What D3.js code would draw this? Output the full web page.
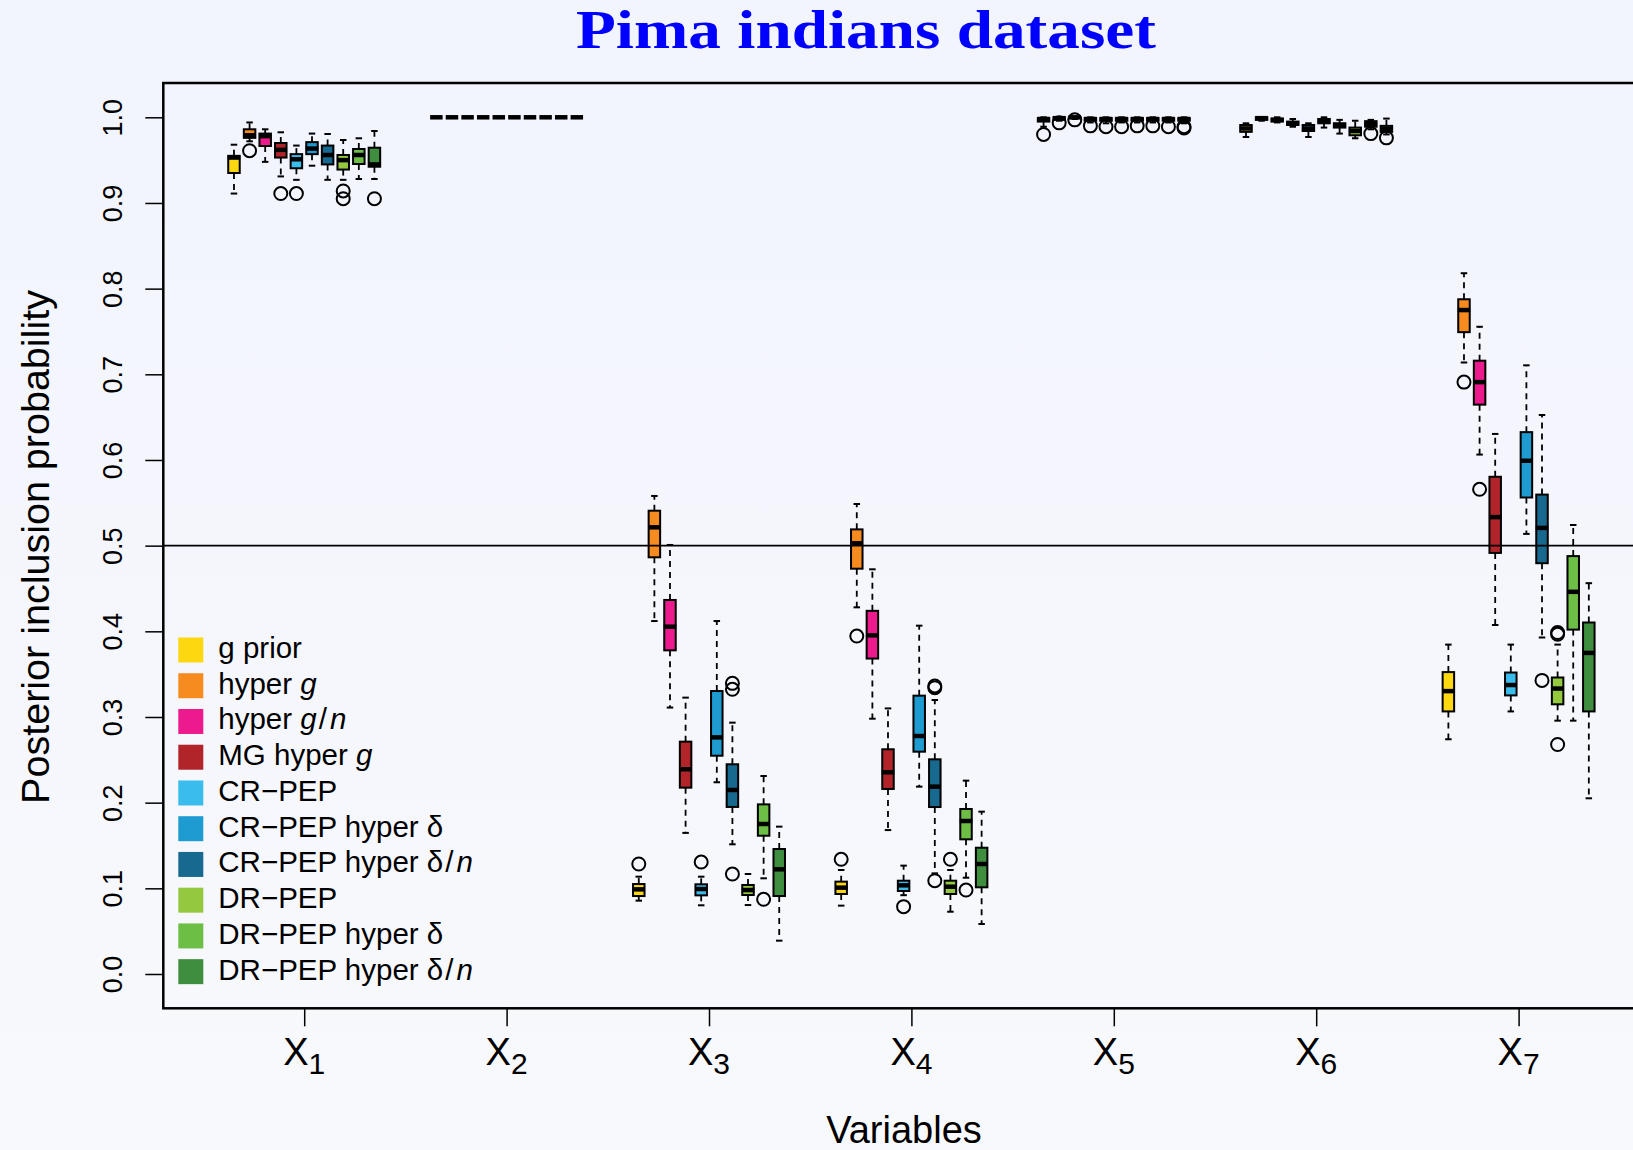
<!DOCTYPE html>
<html><head><meta charset="utf-8">
<script src="https://cdn.jsdelivr.net/npm/d3@7"></script>
<style>html,body{margin:0;padding:0;overflow:hidden;background:#f5f6fd}</style>
</head><body>
<svg id="chart" width="1633" height="1150"></svg>
<script>
// ---------------- DATA ----------------
const variables = ["1", "2", "3", "4", "5", "6", "7"];
const methods = ["g prior", "hyper g", "hyper g/n", "MG hyper g", "CR−PEP",
  "CR−PEP hyper δ", "CR−PEP hyper δ/n", "DR−PEP", "DR−PEP hyper δ", "DR−PEP hyper δ/n"];
const methodColors = ["#fdd710", "#f68b1f", "#ec1a8c", "#b1242a", "#3abdec",
  "#1e9bd0", "#17698f", "#94c83e", "#6cbe45", "#3f8e40"];
// legend label segments: [text, italic?]
const legendLabels = [
  [["g prior", 0]],
  [["hyper ", 0], ["g", 1]],
  [["hyper ", 0], ["g", 1], ["/", 0], ["n", 1]],
  [["MG hyper ", 0], ["g", 1]],
  [["CR−PEP", 0]],
  [["CR−PEP hyper δ", 0]],
  [["CR−PEP hyper δ", 0], ["/", 0], ["n", 1]],
  [["DR−PEP", 0]],
  [["DR−PEP hyper δ", 0]],
  [["DR−PEP hyper δ", 0], ["/", 0], ["n", 1]]
];
const yTicks = [0.0, 0.1, 0.2, 0.3, 0.4, 0.5, 0.6, 0.7, 0.8, 0.9, 1.0];
const refLine = 0.5;

// five-number summaries per method: [lower whisker, Q1, median, Q3, upper whisker]
const statsX1 = [
  [0.911, 0.935, 0.953, 0.955, 0.968],
  [0.972, 0.976, 0.979, 0.986, 0.994],
  [0.948, 0.9665, 0.978, 0.981, 0.986],
  [0.931, 0.953, 0.962, 0.970, 0.9825],
  [0.927, 0.9405, 0.951, 0.957, 0.967],
  [0.9435, 0.957, 0.9635, 0.971, 0.981],
  [0.927, 0.945, 0.956, 0.967, 0.9805],
  [0.927, 0.939, 0.950, 0.956, 0.9735],
  [0.928, 0.9455, 0.956, 0.963, 0.9755],
  [0.928, 0.9423, 0.945, 0.9645, 0.984]
];
const outX1 = [[], [0.961], [], [0.911], [0.911], [], [], [0.914, 0.905], [], [0.905]];

const statsX2 = [
  [1, 1, 1, 1, 1], [1, 1, 1, 1, 1], [1, 1, 1, 1, 1], [1, 1, 1, 1, 1], [1, 1, 1, 1, 1],
  [1, 1, 1, 1, 1], [1, 1, 1, 1, 1], [1, 1, 1, 1, 1], [1, 1, 1, 1, 1], [1, 1, 1, 1, 1]
];
const outX2 = [[], [], [], [], [], [], [], [], [], []];

const statsX3 = [
  [0.0856, 0.091, 0.0988, 0.105, 0.1136],
  [0.412, 0.4864, 0.5214, 0.5408, 0.558],
  [0.311, 0.3778, 0.4054, 0.4366, 0.5008],
  [0.1647, 0.2175, 0.239, 0.2712, 0.3226],
  [0.0802, 0.0918, 0.0992, 0.1047, 0.1136],
  [0.2238, 0.2548, 0.2762, 0.3303, 0.412],
  [0.1514, 0.195, 0.2148, 0.2448, 0.2934],
  [0.0805, 0.0922, 0.098, 0.1039, 0.1167],
  [0.1117, 0.1614, 0.1751, 0.198, 0.2311],
  [0.0389, 0.091, 0.1222, 0.1459, 0.172]
];
const outX3 = [[0.1284], [], [], [], [0.1307], [], [0.3393, 0.3323, 0.1167], [], [0.0872], []];

const statsX4 = [
  [0.0798, 0.0934, 0.1008, 0.1078, 0.1214],
  [0.428, 0.4731, 0.5027, 0.519, 0.5486],
  [0.298, 0.3682, 0.3953, 0.4239, 0.4724],
  [0.168, 0.216, 0.2354, 0.2623, 0.310],
  [0.092, 0.0969, 0.1035, 0.1089, 0.1265],
  [0.2187, 0.2595, 0.2778, 0.3249, 0.4066],
  [0.1175, 0.1949, 0.2187, 0.2506, 0.3198],
  [0.0727, 0.0934, 0.1019, 0.1089, 0.1214],
  [0.1124, 0.1572, 0.1786, 0.1926, 0.2257],
  [0.0584, 0.1012, 0.1284, 0.1474, 0.1895]
];
const outX4 = [[0.1339], [0.3945], [], [], [0.0786], [], [0.3342, 0.3362, 0.1089], [0.1339], [0.098], []];

const statsX5 = [
  [0.989, 0.995, 0.998, 0.999, 1.0],
  [0.996, 0.997, 0.999, 1.0, 1.0],
  [0.998, 0.999, 1.0, 1.0, 1.0],
  [0.994, 0.996, 0.998, 0.999, 1.0],
  [0.993, 0.996, 0.998, 0.999, 1.0],
  [0.994, 0.996, 0.998, 0.999, 1.0],
  [0.994, 0.996, 0.998, 0.999, 1.0],
  [0.994, 0.996, 0.998, 0.999, 1.0],
  [0.994, 0.996, 0.998, 0.999, 1.0],
  [0.993, 0.996, 0.998, 0.999, 1.0]
];
const outX5 = [[0.980], [0.9935], [0.997], [0.990], [0.989], [0.989], [0.990], [0.990], [0.989], [0.9875, 0.989]];

const statsX6 = [
  [0.977, 0.983, 0.987, 0.991, 0.993],
  [0.996, 0.997, 0.999, 1.0, 1.0],
  [0.994, 0.995, 0.997, 0.9985, 1.0],
  [0.989, 0.991, 0.993, 0.995, 0.998],
  [0.977, 0.984, 0.987, 0.991, 0.993],
  [0.988, 0.993, 0.996, 0.998, 1.0],
  [0.981, 0.988, 0.991, 0.993, 0.997],
  [0.9755, 0.979, 0.984, 0.988, 0.996],
  [0.986, 0.989, 0.992, 0.9955, 0.997],
  [0.980, 0.983, 0.986, 0.990, 0.9985]
];
const outX6 = [[], [], [], [], [], [], [], [], [0.981], [0.976]];

const statsX7 = [
  [0.274, 0.3065, 0.3302, 0.3524, 0.3845],
  [0.7138, 0.7492, 0.775, 0.7876, 0.818],
  [0.6063, 0.6646, 0.6909, 0.7159, 0.7555],
  [0.4074, 0.4915, 0.5333, 0.5804, 0.6304],
  [0.3065, 0.3252, 0.3373, 0.3519, 0.3845],
  [0.5137, 0.5562, 0.5991, 0.6325, 0.7105],
  [0.3928, 0.4795, 0.5207, 0.5596, 0.6525],
  [0.2957, 0.3148, 0.3332, 0.3461, 0.3845],
  [0.2957, 0.402, 0.4461, 0.4878, 0.5241],
  [0.2051, 0.3065, 0.3748, 0.4103, 0.4562]
];
const outX7 = [[], [0.6909], [0.5658], [], [], [], [0.3427], [0.3965, 0.3985, 0.2679], [], []];

const allStats = [statsX1, statsX2, statsX3, statsX4, statsX5, statsX6, statsX7];
const allOut = [outX1, outX2, outX3, outX4, outX5, outX6, outX7];

// ---------------- LAYOUT ----------------
const W = 1633, H = 1150;
const plotL = 163.3, plotR = 1643, plotT = 83, plotB = 1008.3;
const svg = d3.select("#chart");

const defs = svg.append("defs");
const grad = defs.append("linearGradient").attr("id", "bg").attr("x1", 0).attr("y1", 0).attr("x2", 0).attr("y2", 1);
grad.append("stop").attr("offset", "0%").attr("stop-color", "#f2f4fe");
grad.append("stop").attr("offset", "100%").attr("stop-color", "#f8f9fc");
svg.append("rect").attr("width", W).attr("height", H).attr("fill", "url(#bg)");

const x = d3.scaleLinear().domain([1, 7]).range([304.2, 1518.6]);
const y = d3.scaleLinear().domain([0, 1]).range([974, 117.3]);
const boxStep = 0.0771;      // in variable units
const boxW = 11.5;           // px
const capW = 6.5;

const font = "'Liberation Sans', Arial, Helvetica, sans-serif";

// boxes
const flat = [];
allStats.forEach((grp, vi) => grp.forEach((s, mi) => {
  flat.push({ vi, mi, s, out: allOut[vi][mi], cx: x(vi + 1 + (mi - 4.5) * boxStep) });
}));

const g = svg.append("g");
const bx = g.selectAll("g.box").data(flat).join("g").attr("class", "box");
// whiskers (dashed)
bx.append("line").attr("x1", d => d.cx).attr("x2", d => d.cx)
  .attr("y1", d => y(d.s[3])).attr("y2", d => y(d.s[4]))
  .attr("stroke", "#000").attr("stroke-width", 1.8).attr("stroke-dasharray", "6,5");
bx.append("line").attr("x1", d => d.cx).attr("x2", d => d.cx)
  .attr("y1", d => y(d.s[1])).attr("y2", d => y(d.s[0]))
  .attr("stroke", "#000").attr("stroke-width", 1.8).attr("stroke-dasharray", "6,5");
// staples
bx.append("line").attr("x1", d => d.cx - capW / 2).attr("x2", d => d.cx + capW / 2)
  .attr("y1", d => y(d.s[4])).attr("y2", d => y(d.s[4])).attr("stroke", "#000").attr("stroke-width", 2);
bx.append("line").attr("x1", d => d.cx - capW / 2).attr("x2", d => d.cx + capW / 2)
  .attr("y1", d => y(d.s[0])).attr("y2", d => y(d.s[0])).attr("stroke", "#000").attr("stroke-width", 2);
// box
bx.append("rect").attr("x", d => d.cx - boxW / 2).attr("width", boxW)
  .attr("y", d => y(d.s[3])).attr("height", d => y(d.s[1]) - y(d.s[3]))
  .attr("fill", d => methodColors[d.mi]).attr("stroke", "#000").attr("stroke-width", 2);
// median
bx.append("line").attr("x1", d => d.cx - boxW / 2 - 0.5).attr("x2", d => d.cx + boxW / 2 + 0.5)
  .attr("y1", d => y(d.s[2])).attr("y2", d => y(d.s[2])).attr("stroke", "#000").attr("stroke-width", 4.5);
// outliers
bx.selectAll("circle").data(d => d.out.map(v => ({ v, cx: d.cx }))).join("circle")
  .attr("cx", d => d.cx).attr("cy", d => y(d.v)).attr("r", 6.5)
  .attr("fill", "none").attr("stroke", "#000").attr("stroke-width", 2);

// reference line
svg.append("line").attr("x1", plotL).attr("x2", plotR).attr("y1", y(refLine)).attr("y2", y(refLine))
  .attr("stroke", "#000").attr("stroke-width", 1.8);

// frame
svg.append("rect").attr("x", plotL).attr("y", plotT).attr("width", plotR - plotL).attr("height", plotB - plotT)
  .attr("fill", "none").attr("stroke", "#000").attr("stroke-width", 2.5);

// y axis
const yAxis = d3.axisLeft(y).tickValues(yTicks).tickFormat(d3.format(".1f")).tickSize(18).tickPadding(0);
const ya = svg.append("g").attr("transform", `translate(${plotL},0)`).call(yAxis);
ya.select(".domain").remove();
ya.selectAll(".tick line").attr("stroke", "#000").attr("stroke-width", 1.5);
ya.selectAll(".tick text")
  .attr("x", null).attr("dy", null)
  .attr("transform", "translate(-41.6,0) rotate(-90)")
  .attr("text-anchor", "middle")
  .attr("font-family", font).attr("font-size", 27).attr("fill", "#000");

// x axis
const xAxis = d3.axisBottom(x).tickValues(variables.map(Number)).tickSize(18).tickFormat("");
const xa = svg.append("g").attr("transform", `translate(0,${plotB})`).call(xAxis);
xa.select(".domain").remove();
xa.selectAll(".tick line").attr("stroke", "#000").attr("stroke-width", 1.5);
const xl = svg.append("g").selectAll("text").data(variables).join("text")
  .attr("x", d => x(+d)).attr("y", 1065)
  .attr("text-anchor", "middle").attr("font-family", font).attr("font-size", 38).attr("fill", "#000");
xl.append("tspan").text("X");
xl.append("tspan").attr("dy", 9).attr("font-size", 30).text(d => d);

// axis titles
svg.append("text").attr("x", 904).attr("y", 1143).attr("text-anchor", "middle")
  .attr("font-family", font).attr("font-size", 38).text("Variables");
svg.append("text").attr("transform", "translate(49,547) rotate(-90)").attr("text-anchor", "middle")
  .attr("font-family", font).attr("font-size", 39.5).text("Posterior inclusion probability");

// title
svg.append("text").attr("x", 866).attr("y", 48).attr("text-anchor", "middle")
  .attr("font-family", "'Liberation Serif', 'DejaVu Serif', serif").attr("font-weight", "bold")
  .attr("font-size", 54).attr("fill", "#0000ff")
  .attr("textLength", 580).attr("lengthAdjust", "spacingAndGlyphs")
  .text("Pima indians dataset");

// legend
const lg = svg.append("g").selectAll("g").data(methods).join("g")
  .attr("transform", (d, i) => `translate(178.3,${650 + i * 35.74})`);
lg.append("rect").attr("x", 0).attr("y", -12.5).attr("width", 25).attr("height", 25)
  .attr("fill", (d, i) => methodColors[i]);
const lt = lg.append("text").attr("x", 40).attr("y", 8)
  .attr("font-family", font).attr("font-size", 29.5).attr("fill", "#000");
lt.selectAll("tspan").data((d, i) => legendLabels[i]).join("tspan")
  .attr("font-style", d => d[1] ? "italic" : "normal")
  .attr("dx", (d, j) => (d[0] === "/" ? 2 : (d[0] === "n" ? 3 : 0)))
  .text(d => d[0]);
</script>
</body></html>
